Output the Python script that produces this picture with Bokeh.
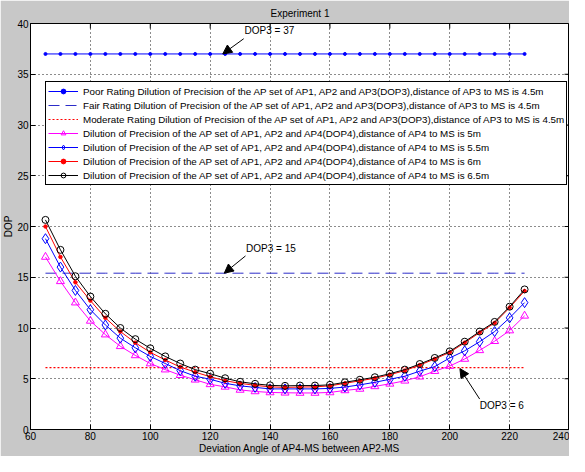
import math
from bokeh.plotting import figure
from bokeh.models import Range1d, FixedTicker, Legend, LegendItem, Arrow, NormalHead, Label
from bokeh.embed import file_html
from bokeh.resources import INLINE

# ---- data ----
angles = [65, 70, 75, 80, 85, 90, 95, 100, 105, 110, 115, 120, 125, 130, 135, 140, 145,
          150, 155, 160, 165, 170, 175, 180, 185, 190, 195, 200, 205, 210, 215, 220, 225]
dop3_poor = [37.0] * len(angles)
dop3_fair = [15.4] * len(angles)
dop3_moderate = [6.1] * len(angles)
dop4_5m = [17.0, 14.6, 12.5, 10.7, 9.35, 8.2, 7.3, 6.5, 5.9, 5.35, 4.9, 4.45, 4.2, 3.9, 3.75, 3.65, 3.62,
           3.6, 3.6, 3.65, 3.85, 4.0, 4.25, 4.5, 4.8, 5.2, 5.75, 6.25, 6.95, 7.8, 8.7, 9.75, 11.2]
dop4_55m = [18.8, 16.0, 13.7, 11.8, 10.3, 9.0, 8.05, 7.2, 6.5, 5.8, 5.25, 4.95, 4.55, 4.3, 4.15, 4.0, 4.0,
            4.0, 4.0, 4.05, 4.18, 4.4, 4.65, 4.95, 5.25, 5.75, 6.2, 7.05, 7.75, 8.65, 9.65, 11.0, 12.5]
dop4_6m = [20.0, 17.0, 14.5, 12.7, 11.0, 9.65, 8.55, 7.6, 6.85, 6.15, 5.65, 5.2, 4.8, 4.55, 4.35, 4.2, 4.15,
           4.18, 4.2, 4.3, 4.55, 4.8, 5.05, 5.4, 5.8, 6.35, 6.95, 7.6, 8.55, 9.55, 10.5, 12.0, 13.65]
dop4_65m = [20.65, 17.7, 15.1, 13.1, 11.4, 10.0, 8.9, 8.0, 7.2, 6.5, 5.9, 5.5, 5.05, 4.7, 4.5, 4.35, 4.3,
            4.33, 4.33, 4.4, 4.65, 4.9, 5.15, 5.5, 5.9, 6.45, 7.05, 7.7, 8.65, 9.65, 10.6, 12.1, 13.8]

x_ticks = [60, 80, 100, 120, 140, 160, 180, 200, 220, 240]
y_ticks = [0, 5, 10, 15, 20, 25, 30, 35, 40]

labels = [
    "Poor Rating Dilution of Precision of the AP set of AP1, AP2 and AP3(DOP3),distance of AP3 to MS is 4.5m",
    "Fair Rating Dilution of Precision of the AP set of AP1, AP2 and AP3(DOP3),distance of AP3 to MS is 4.5m",
    "Moderate Rating Dilution of Precision of the AP set of AP1, AP2 and AP3(DOP3),distance of AP3 to MS is 4.5m",
    "Dilution of Precision of the AP set of AP1, AP2 and AP4(DOP4),distance of AP4 to MS is 5m",
    "Dilution of Precision of the AP set of AP1, AP2 and AP4(DOP4),distance of AP4 to MS is 5.5m",
    "Dilution of Precision of the AP set of AP1, AP2 and AP4(DOP4),distance of AP4 to MS is 6m",
    "Dilution of Precision of the AP set of AP1, AP2 and AP4(DOP4),distance of AP4 to MS is 6.5m",
]

# annotations: text, text x, text y, arrow tail x, tail y, tip x, tip y
ann_text = ["DOP3 = 37", "DOP3 = 15", "DOP3 = 6"]
ann_tx = [131.5, 132.0, 210.0]
ann_ty = [39.3, 17.8, 2.4]
ann_x0 = [131.2, 131.8, 210.0]
ann_y0 = [38.5, 17.1, 3.0]
ann_x1 = [124.2, 124.7, 203.4]
ann_y1 = [37.0, 15.4, 6.0]

FONT = "Liberation Sans"
FS = "10px"
X0, X1, Y0, Y1 = 60, 240, 0, 40

p = figure(width=569, height=456, x_range=Range1d(X0, X1), y_range=Range1d(Y0, Y1),
           output_backend="svg", toolbar_location=None,
           background_fill_color="white", border_fill_color="#c8c8c8",
           min_border_left=20, min_border_right=0, min_border_top=2, min_border_bottom=0)

p.title.text = "Experiment 1"
p.title.align = "center"
p.title.text_font = FONT
p.title.text_font_size = FS
p.title.text_font_style = "normal"
p.title.text_color = "black"
p.title.standoff = 10

p.outline_line_color = "black"
p.outline_line_alpha = 1

for ax in (p.xaxis[0], p.yaxis[0]):
    ax.major_tick_in = 5
    ax.major_tick_out = 0
    ax.minor_tick_in = 0
    ax.minor_tick_out = 0
    ax.major_label_text_font = FONT
    ax.major_label_text_font_size = FS
    ax.major_label_text_color = "black"
    ax.axis_label_text_font = FONT
    ax.axis_label_text_font_size = FS
    ax.axis_label_text_font_style = "normal"
    ax.axis_label_text_color = "black"
    ax.axis_label_standoff = 0
    ax.major_label_standoff = 2
    ax.axis_line_color = "black"
    ax.major_tick_line_color = "black"

p.xaxis[0].ticker = FixedTicker(ticks=x_ticks)
p.yaxis[0].ticker = FixedTicker(ticks=y_ticks)
p.xaxis[0].axis_label = "Deviation Angle of AP4-MS between AP2-MS"
p.yaxis[0].axis_label = "DOP"

for g in (p.xgrid[0], p.ygrid[0]):
    g.grid_line_color = "black"
    g.grid_line_dash = "1 3"
    g.grid_line_alpha = 0.9

# inward ticks on the top and right box edges (clipped to the frame)
p.scatter(x_ticks, [Y1] * len(x_ticks), marker="dash", angle=math.pi / 2, size=10, line_color="black")
p.scatter([X1] * len(y_ticks), y_ticks, marker="dash", size=10, line_color="black")

items = []

r1 = p.line(angles, dop3_poor, line_color="#0000ff", line_width=1)
r1m = p.scatter(angles, dop3_poor, marker="circle", size=3, fill_color="#0000ff", line_color="#0000ff")
items.append(LegendItem(label=labels[0], renderers=[r1, r1m]))

r2 = p.line(angles, dop3_fair, line_color="#2c2cc8", line_width=1, line_dash="11 6")
items.append(LegendItem(label=labels[1], renderers=[r2]))

r3 = p.line(angles, dop3_moderate, line_color="#ff0000", line_width=1.2, line_dash="2 2")
items.append(LegendItem(label=labels[2], renderers=[r3]))

r4 = p.line(angles, dop4_5m, line_color="#ff00ff", line_width=1)
r4m = p.scatter(angles, dop4_5m, marker="triangle", size=8, fill_color=None, line_color="#ff00ff")
items.append(LegendItem(label=labels[3], renderers=[r4, r4m]))

r5 = p.line(angles, dop4_55m, line_color="#0000ff", line_width=1)
r5m = p.scatter(angles, dop4_55m, marker="diamond", size=10, fill_color=None, line_color="#0000ff")
items.append(LegendItem(label=labels[4], renderers=[r5, r5m]))

r6 = p.line(angles, dop4_6m, line_color="#ff0000", line_width=1)
r6m = p.scatter(angles, dop4_6m, marker="circle", size=3.5, fill_color="#ff0000", line_color="#ff0000")
items.append(LegendItem(label=labels[5], renderers=[r6, r6m]))

r7 = p.line(angles, dop4_65m, line_color="black", line_width=1)
r7m = p.scatter(angles, dop4_65m, marker="circle", size=7, fill_color=None, line_color="black")
items.append(LegendItem(label=labels[6], renderers=[r7, r7m]))

legend = Legend(items=items, location=(15, 244), margin=0, padding=2, spacing=0,
                glyph_width=30, glyph_height=12, label_height=14, label_standoff=5,
                label_text_font=FONT, label_text_font_size="9.8px", label_text_color="black",
                label_text_line_height=1.0,
                border_line_color="black", border_line_alpha=1, background_fill_alpha=1)
p.add_layout(legend, "center")

for t, tx, ty, x0, y0, x1, y1 in zip(ann_text, ann_tx, ann_ty, ann_x0, ann_y0, ann_x1, ann_y1):
    p.add_layout(Arrow(x_start=x0, y_start=y0, x_end=x1, y_end=y1, line_color="black", line_width=1,
                       end=NormalHead(size=9, fill_color="black", line_color="black")))
    p.add_layout(Label(x=tx, y=ty, text=t, text_font=FONT, text_font_size=FS, text_color="black",
                       text_baseline="middle", text_align="left"))

open("out.html", "w").write(file_html(p, INLINE))
